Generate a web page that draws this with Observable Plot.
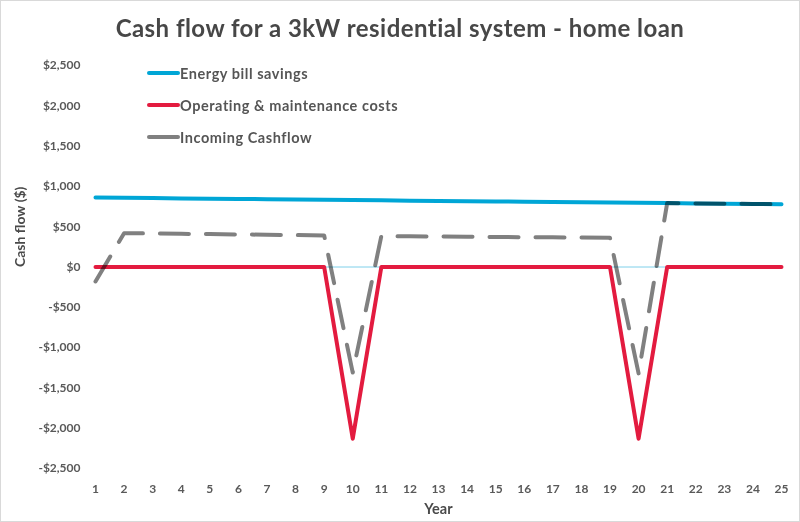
<!DOCTYPE html>
<html>
<head>
<meta charset="utf-8">
<script src="https://cdn.jsdelivr.net/npm/d3@7"></script>
<script src="https://cdn.jsdelivr.net/npm/@observablehq/plot@0.6"></script>
<style>
  html, body { margin: 0; padding: 0; background: #fff; }
  #wrap { position: relative; width: 800px; height: 522px; box-sizing: border-box; border: 1px solid #d9d9d9; font-family: Lato, "Open Sans", sans-serif; overflow: hidden; }
  #title { height: 54px; line-height: 54px; text-align: center; font-size: 24px; font-weight: 700; color: #474747; letter-spacing: 0.45px; }
  #legend { position: absolute; left: 146px; top: 56px; }
  .item { display: flex; align-items: center; height: 32px; font-size: 14.5px; font-weight: 700; color: #555; letter-spacing: 0.55px; }
  .item svg { margin-right: 0px; }
</style>
</head>
<body>
<div id="wrap">
  <div id="title">Cash flow for a 3kW residential system - home loan</div>
  <div id="chart"></div>
  <div id="legend"></div>
</div>
<script>
const years = [1,2,3,4,5,6,7,8,9,10,11,12,13,14,15,16,17,18,19,20,21,22,23,24,25];
const energySavings = [862,858,855,851,848,844,841,837,834,830,827,823,820,816,813,810,806,803,799,796,793,789,786,782,779];
const omCosts = [0,0,0,0,0,0,0,0,0,-2130,0,0,0,0,0,0,0,0,0,-2130,0,0,0,0,0];
const incomingCashflow = [-180,420,416,412,408,404,400,396,392,-1310,383,380,378,375,373,370,368,365,362,-1320,793,789,786,782,779];
const yTicks = [-2500,-2000,-1500,-1000,-500,0,500,1000,1500,2000,2500];
const seriesNames = ["Energy bill savings", "Operating & maintenance costs", "Incoming Cashflow"];
const seriesColors = ["#00a6d6", "#e31b3f", "#808080"];

const toRows = vals => years.map((y, i) => ({year: y, value: vals[i]}));
const fmt = v => (v < 0 ? "-$" : "$") + d3.format(",")(Math.abs(v));

const chart = Plot.plot({
  width: 798,
  height: 466,
  marginTop: 10,
  marginBottom: 53,
  marginLeft: 94,
  marginRight: 18,
  style: {fontFamily: "Lato, 'Open Sans', sans-serif", fontSize: "12px", color: "#595959", background: "transparent"},
  x: {domain: [1, 25], axis: null},
  y: {domain: [-2500, 2500], axis: null},
  marks: [
    Plot.axisY(yTicks, {tickSize: 0, tickPadding: 15, tickFormat: fmt, fontWeight: 700, fill: "#595959", label: null, letterSpacing: 0.6}),
    Plot.axisX(years, {tickSize: 0, tickPadding: 16, fontWeight: 700, fill: "#595959", label: null}),
    Plot.text(["Cash flow ($)"], {frameAnchor: "left", dx: -75, rotate: -90, fontSize: 14, fontWeight: 700, fill: "#4a4a4a", letterSpacing: 0.3}),
    Plot.text(["Year"], {frameAnchor: "bottom", dy: 45, fontSize: 14.5, fontWeight: 700, fill: "#4a4a4a", letterSpacing: 0.3}),
    Plot.ruleY([0], {stroke: "#7fd0ea", strokeWidth: 1}),
    Plot.line(toRows(energySavings), {x: "year", y: "value", stroke: seriesColors[0], strokeWidth: 4}),
    Plot.line(toRows(omCosts), {x: "year", y: "value", stroke: seriesColors[1], strokeWidth: 4}),
    Plot.line(toRows(incomingCashflow), {x: "year", y: "value", stroke: seriesColors[2], strokeWidth: 4, strokeDasharray: "29,17", strokeLinecap: "round", mixBlendMode: "multiply"})
  ]
});
document.getElementById("chart").appendChild(chart);

const legend = document.getElementById("legend");
seriesNames.forEach((name, i) => {
  const d = document.createElement("div");
  d.className = "item";
  d.innerHTML = `<svg width="33" height="8"><line x1="2" y1="4" x2="31" y2="4" stroke="${seriesColors[i]}" stroke-width="4" stroke-linecap="round"/></svg><span></span>`;
  d.querySelector("span").textContent = name;
  legend.appendChild(d);
});
</script>
</body>
</html>
